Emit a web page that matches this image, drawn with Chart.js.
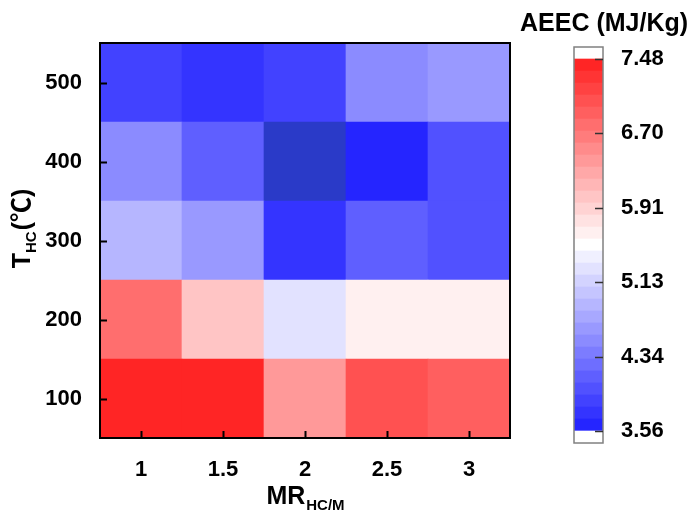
<!DOCTYPE html>
<html>
<head>
<meta charset="utf-8">
<script src="https://cdn.jsdelivr.net/npm/chart.js@4.4.1/dist/chart.umd.min.js"></script>
<style>
    body { margin: 0; background: #fff; }
    #wrap { position: relative; width: 692px; height: 512px; }
    #main { position: absolute; left: 0; top: 0; }
    #bar { position: absolute; left: 560px; top: 0; }
</style>
</head>
<body>
<div id="wrap">
    <canvas id="main" width="692" height="512"></canvas>
    <canvas id="bar" width="132" height="512"></canvas>
</div>
<script>
// MR (HC/M) categories and hot-carrier temperatures
const mrLabels = ["1", "1.5", "2", "2.5", "3"];
const tempRows = [100, 200, 300, 400, 500];

// AEEC (MJ/Kg) per row
const aeec100 = [7.41, 7.41, 6.41, 7.06, 6.92];
const aeec200 = [6.78, 6.00, 5.30, 5.60, 5.60];
const aeec300 = [4.93, 4.66, 3.75, 4.17, 3.98];
const aeec400 = [4.49, 4.11, 3.40, 3.63, 3.97];
const aeec500 = [3.88, 3.74, 3.89, 4.45, 4.67];
const rowValues = [aeec100, aeec200, aeec300, aeec400, aeec500];

// colour bar
const cbTicks = [3.56, 4.34, 5.13, 5.91, 6.70, 7.48];
const cbMin = 3.56;
const cbMax = 7.48;
const levels = 31;

const fontFam = "'Liberation Sans', Arial, 'Noto Sans CJK SC', sans-serif";

const cmap = (t) => {
    const lo = [30, 30, 255], w = [255, 255, 255], hi = [255, 30, 30];
    let a, b, f;
    if (t < 0.5) { a = lo; b = w; f = t / 0.5; }
    else { a = w; b = hi; f = (t - 0.5) / 0.5; }
    const c = a.map((v, i) => Math.round(v + (b[i] - v) * f));
    return `rgb(${c[0]},${c[1]},${c[2]})`;
};

const colorFor = (v) => {
    if (v < cbMin) return "#2a3ac8";
    let k = Math.floor((v - cbMin) / (cbMax - cbMin) * levels);
    k = Math.max(0, Math.min(levels - 1, k));
    return cmap((k + 0.5) / levels);
};

const tickFont = {family: fontFam, size: 22, weight: "bold"};

// border, inward ticks and axis titles
const framePlugin = {
    id: "frame",
    afterDatasetsDraw(chart) {
        const {ctx, chartArea: a, scales} = chart;
        ctx.save();
        ctx.strokeStyle = "#000";
        ctx.lineWidth = 2;
        ctx.strokeRect(a.left, a.top, a.right - a.left, a.bottom - a.top);
        ctx.beginPath();
        mrLabels.forEach((l, i) => {
            const x = Math.round(scales.x.getPixelForValue(i)) + 0.5;
            ctx.moveTo(x, a.bottom);
            ctx.lineTo(x, a.bottom - 7);
        });
        tempRows.forEach(t => {
            const y = Math.round(scales.y.getPixelForValue(t)) + 0.5;
            ctx.moveTo(a.left, y);
            ctx.lineTo(a.left + 7, y);
        });
        ctx.stroke();
        ctx.restore();
    },
    afterDraw(chart) {
        const {ctx, chartArea: a} = chart;
        ctx.save();
        ctx.fillStyle = "#000";
        ctx.textBaseline = "alphabetic";

        // x title: MR with subscript HC/M
        const big = `bold 25px ${fontFam}`, small = `bold 15px ${fontFam}`;
        ctx.font = big;
        const w1 = ctx.measureText("MR").width;
        ctx.font = small;
        const w2 = ctx.measureText("HC/M").width;
        const cx = (a.left + a.right) / 2;
        let x0 = cx - (w1 + w2) / 2;
        ctx.font = big;
        ctx.fillText("MR", x0, 504);
        ctx.font = small;
        ctx.fillText("HC/M", x0 + w1 + 1, 510);

        // y title: T with subscript HC, then (℃)
        ctx.translate(30, 229);
        ctx.rotate(-Math.PI / 2);
        ctx.font = big;
        const t1 = ctx.measureText("T").width;
        const t3 = ctx.measureText("(℃)").width;
        ctx.font = small;
        const t2 = ctx.measureText("HC").width;
        let y0 = -(t1 + t2 + t3) / 2;
        ctx.font = big;
        ctx.fillText("T", y0, 0);
        ctx.font = small;
        ctx.fillText("HC", y0 + t1, 6);
        ctx.font = big;
        ctx.fillText("(℃)", y0 + t1 + t2 + 1, 0);
        ctx.restore();

        // colour bar title
        ctx.save();
        ctx.fillStyle = "#000";
        ctx.font = `bold 25px ${fontFam}`;
        ctx.fillText("AEEC (MJ/Kg)", 520, 31);
        ctx.restore();
    }
};

new Chart(document.getElementById("main"), {
    type: "bar",
    data: {
        labels: mrLabels,
        datasets: tempRows.map((t, i) => ({
            label: t + " ℃",
            data: rowValues[i].map(() => [t - 50, t + 50]),
            backgroundColor: rowValues[i].map(colorFor),
            borderWidth: 0,
            grouped: false,
            barPercentage: 1,
            categoryPercentage: 1
        }))
    },
    options: {
        responsive: false,
        animation: false,
        layout: {padding: {left: 0, top: 43, right: 182, bottom: 0}},
        plugins: {legend: {display: false}, tooltip: {enabled: false}},
        scales: {
            x: {
                type: "category",
                grid: {display: false},
                border: {display: false},
                ticks: {font: tickFont, color: "#000", padding: 11, maxRotation: 0},
                afterFit: (s) => { s.height = 74; }
            },
            y: {
                type: "linear",
                min: 50,
                max: 550,
                afterBuildTicks: (s) => { s.ticks = tempRows.map(v => ({value: v})); },
                grid: {display: false},
                border: {display: false},
                ticks: {font: tickFont, color: "#000", padding: 10},
                afterFit: (s) => { s.width = 100; }
            }
        }
    },
    plugins: [framePlugin]
});

// colour bar chart
const cbStep = (cbMax - cbMin) / levels;
const ext = 12 * (cbMax - cbMin) / 372;
const barSets = [];
barSets.push({data: [[cbMin - ext, cbMin]], backgroundColor: "#fff"});
for (let k = 0; k < levels; k++) {
    barSets.push({
        data: [[cbMin + k * cbStep, cbMin + (k + 1) * cbStep]],
        backgroundColor: cmap((k + 0.5) / levels)
    });
}
barSets.push({data: [[cbMax, cbMax + ext]], backgroundColor: "#fff"});
barSets.forEach(d => {
    d.borderWidth = 0;
    d.grouped = false;
    d.barPercentage = 1;
    d.categoryPercentage = 1;
});

const barFrame = {
    id: "barFrame",
    afterDatasetsDraw(chart) {
        const {ctx, chartArea: a, scales} = chart;
        ctx.save();
        ctx.strokeStyle = "#808080";
        ctx.lineWidth = 1.5;
        ctx.strokeRect(a.left, a.top, a.right - a.left, a.bottom - a.top);
        ctx.strokeStyle = "#333";
        ctx.lineWidth = 1.5;
        ctx.beginPath();
        cbTicks.forEach(v => {
            const y = Math.round(scales.y.getPixelForValue(v)) + 0.5;
            ctx.moveTo(a.right, y);
            ctx.lineTo(a.right - 8, y);
        });
        ctx.stroke();
        ctx.restore();
    }
};

new Chart(document.getElementById("bar"), {
    type: "bar",
    data: {labels: ["AEEC"], datasets: barSets},
    options: {
        responsive: false,
        animation: false,
        layout: {padding: {left: 14, top: 47, right: 0, bottom: 69}},
        plugins: {legend: {display: false}, tooltip: {enabled: false}},
        scales: {
            x: {type: "category", display: false},
            y: {
                type: "linear",
                position: "right",
                min: cbMin - ext,
                max: cbMax + ext,
                afterBuildTicks: (s) => { s.ticks = cbTicks.map(v => ({value: v})); },
                grid: {display: false},
                border: {display: false},
                ticks: {font: tickFont, color: "#000", padding: 10, callback: (v) => v.toFixed(2)},
                afterFit: (s) => { s.width = 89; }
            }
        }
    },
    plugins: [barFrame]
});
</script>
</body>
</html>
